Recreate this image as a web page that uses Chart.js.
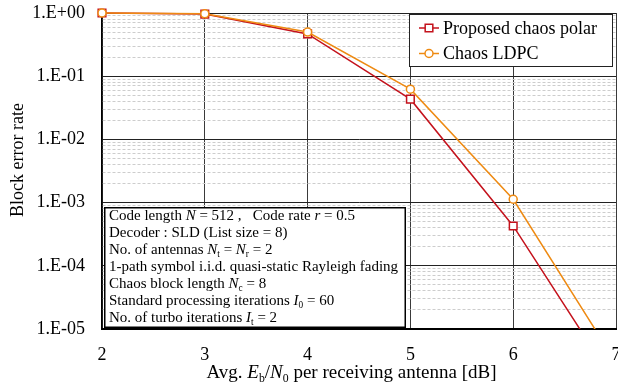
<!DOCTYPE html>
<html>
<head>
<meta charset="utf-8">
<script src="https://cdn.jsdelivr.net/npm/chart.js@4.4.1/dist/chart.umd.min.js"></script>
<style>
  html, body { margin: 0; padding: 0; background: #fff; }
  #wrap { width: 618px; height: 386px; }
</style>
</head>
<body>
<div id="wrap"><canvas id="c" width="618" height="386"></canvas></div>
<script>
// ---- data ----
const ebn0 = [2, 3, 4, 5, 6, 7];
const polarBler = [1.0, 0.96, 0.467, 0.0433, 4.27e-4, 1.3e-6];
const ldpcBler  = [1.0, 0.97, 0.50, 0.0623, 1.13e-3, 2.95e-6];
const seriesNames = ['Proposed chaos polar', 'Chaos LDPC'];
const xTicks = [2, 3, 4, 5, 6, 7];
const yDecades = [1e-5, 1e-4, 1e-3, 1e-2, 1e-1, 1];
const yTickLabels = ['1.E-05', '1.E-04', '1.E-03', '1.E-02', '1.E-01', '1.E+00'];
const yTitle = 'Block error rate';
// rich-text runs: [text, flags]  flags: 'i' italic, 's' subscript
const xTitle = [['Avg. '], ['E', 'i'], ['b', 's'], ['/'], ['N', 'i'], ['0', 's'], [' per receiving antenna [dB]']];
const infoLines = [
  [['Code length '], ['N', 'i'], [' = 512 ,   Code rate '], ['r', 'i'], [' = 0.5']],
  [['Decoder : SLD (List size = 8)']],
  [['No. of antennas '], ['N', 'i'], ['t', 's'], [' = '], ['N', 'i'], ['r', 's'], [' = 2']],
  [['1-path symbol i.i.d. quasi-static Rayleigh fading']],
  [['Chaos block length '], ['N', 'i'], ['c', 's'], [' = 8']],
  [['Standard processing iterations '], ['I', 'i'], ['0', 's'], [' = 60']],
  [['No. of turbo iterations '], ['I', 'i'], ['t', 's'], [' = 2']]
];

const SERIF = "'Liberation Serif', 'Times New Roman', serif";
const RED = '#C4121C';
const ORANGE = '#EE8A12';

function isDecade(v) {
  const l = Math.log10(v);
  return Math.abs(l - Math.round(l)) < 1e-9;
}

function runFont(run, size) {
  const f = run[1] || '';
  const fs = f.includes('s') ? size * 0.62 : size;
  return (f.includes('i') ? 'italic ' : '') + fs.toFixed(2) + 'px ' + SERIF;
}
function richWidth(ctx, runs, size) {
  let w = 0;
  for (const r of runs) { ctx.font = runFont(r, size); w += ctx.measureText(r[0]).width; }
  return w;
}
function drawRich(ctx, runs, x, y, size) {
  let cx = x;
  ctx.textBaseline = 'alphabetic';
  ctx.textAlign = 'left';
  for (const r of runs) {
    ctx.font = runFont(r, size);
    const dy = (r[1] || '').includes('s') ? size * 0.22 : 0;
    ctx.fillText(r[0], cx, y + dy);
    cx += ctx.measureText(r[0]).width;
  }
}

// titles, info box and legend drawn on top of the plot
const overlay = {
  id: 'overlay',
  afterDraw(chart) {
    const ctx = chart.ctx;
    const a = chart.chartArea;
    ctx.save();
    ctx.fillStyle = '#000';

    // y-axis title
    ctx.save();
    ctx.translate(18, 160);
    ctx.rotate(-Math.PI / 2);
    ctx.font = '18px ' + SERIF;
    ctx.textAlign = 'center';
    ctx.textBaseline = 'middle';
    ctx.fillText(yTitle, 0, 0);
    ctx.restore();

    // x-axis title
    const xw = richWidth(ctx, xTitle, 19);
    drawRich(ctx, xTitle, 351.5 - xw / 2, 378, 19);

    // info box
    const bx = a.left + 2, by = 207, bw = 302, bh = a.bottom - 1 - by;
    ctx.fillStyle = '#fff';
    ctx.fillRect(bx, by, bw, bh);
    ctx.strokeStyle = '#000';
    ctx.lineWidth = 1.5;
    ctx.strokeRect(bx + 0.75, by + 0.75, bw - 1.5, bh - 1.5);
    ctx.fillStyle = '#000';
    infoLines.forEach((runs, i) => drawRich(ctx, runs, bx + 5, by + 13 + i * 17, 15));

    // legend
    const lx = a.right - 207, ly = a.top + 1, lw = 204, lh = 53;
    ctx.fillStyle = '#fff';
    ctx.fillRect(lx, ly, lw, lh);
    ctx.strokeStyle = '#222';
    ctx.lineWidth = 1;
    ctx.strokeRect(lx + 0.5, ly + 0.5, lw - 1, lh - 1);
    chart.data.datasets.forEach((ds, i) => {
      const cy = ly + 14 + i * 25.5;
      ctx.strokeStyle = ds.borderColor;
      ctx.lineWidth = 1.5;
      ctx.beginPath();
      ctx.moveTo(lx + 10, cy);
      ctx.lineTo(lx + 30, cy);
      ctx.stroke();
      ctx.fillStyle = '#fff';
      ctx.strokeStyle = ds.borderColor;
      ctx.lineWidth = ds.pointBorderWidth;
      Chart.helpers.drawPoint(ctx, {
        pointStyle: ds.pointStyle, radius: ds.pointRadius, borderWidth: ds.pointBorderWidth, rotation: 0
      }, lx + 20, cy);
      ctx.fillStyle = '#000';
      ctx.font = '18px ' + SERIF;
      ctx.textAlign = 'left';
      ctx.textBaseline = 'middle';
      ctx.fillText(ds.label, lx + 34, cy + 1);
    });
    ctx.restore();
  }
};

const ctx = document.getElementById('c').getContext('2d');
new Chart(ctx, {
  type: 'line',
  data: {
    datasets: [
      {
        label: seriesNames[0],
        data: ebn0.map((x, i) => ({ x, y: polarBler[i] })),
        borderColor: RED,
        backgroundColor: '#fff',
        borderWidth: 1.5,
        pointStyle: 'rect',
        pointRadius: 5.4,
        pointBorderWidth: 1.5,
        pointBackgroundColor: '#fff',
        pointBorderColor: RED,
        order: 1,
        clip: { left: 10, top: 10, right: 10, bottom: 0 }
      },
      {
        label: seriesNames[1],
        data: ebn0.map((x, i) => ({ x, y: ldpcBler[i] })),
        borderColor: ORANGE,
        backgroundColor: '#fff',
        borderWidth: 1.5,
        pointStyle: 'circle',
        pointRadius: 4,
        pointBorderWidth: 1.5,
        pointBackgroundColor: '#fff',
        pointBorderColor: ORANGE,
        order: 0,
        clip: { left: 10, top: 10, right: 10, bottom: 0 }
      }
    ]
  },
  options: {
    responsive: false,
    animation: false,
    layout: { autoPadding: false, padding: { top: 13, right: 2, left: 0, bottom: 0 } },
    plugins: { legend: { display: false }, tooltip: { enabled: false } },
    elements: { line: { tension: 0 } },
    scales: {
      x: {
        type: 'linear',
        min: xTicks[0],
        max: xTicks[xTicks.length - 1],
        afterBuildTicks: s => { s.ticks = xTicks.map(v => ({ value: v })); },
        afterFit: s => { s.height = 57; s.paddingLeft = 0; s.paddingRight = 0; },
        ticks: {
          autoSkip: false,
          maxRotation: 0,
          padding: 15,
          color: '#000',
          font: { family: SERIF, size: 18 }
        },
        grid: { color: '#3a3a3a', lineWidth: 1, drawTicks: false },
        border: { color: '#000', width: 2 }
      },
      y: {
        type: 'logarithmic',
        min: yDecades[0],
        max: yDecades[yDecades.length - 1],
        afterBuildTicks: s => {
          const t = [];
          for (let d = 0; d < yDecades.length; d++) {
            const base = yDecades[d];
            if (d === yDecades.length - 1) { t.push({ value: base }); break; }
            for (let m = 1; m <= 9; m++) t.push({ value: Number((m * base).toPrecision(6)) });
          }
          s.ticks = t;
        },
        afterFit: s => { s.width = 102; s.paddingTop = 0; s.paddingBottom = 0; },
        ticks: {
          autoSkip: false,
          padding: 17,
          color: '#000',
          font: { family: SERIF, size: 18 },
          callback: v => {
            const i = yDecades.findIndex(d => Math.abs(Math.log10(d) - Math.log10(v)) < 1e-9);
            return i >= 0 ? yTickLabels[i] : '';
          }
        },
        grid: {
          drawTicks: false,
          color: c => (c.tick && isDecade(c.tick.value)) ? '#222' : '#cdcdcd',
          lineWidth: 1
        },
        border: {
          color: '#000',
          width: 1.5,
          dash: c => (c.tick && isDecade(c.tick.value)) ? [] : [3, 2]
        }
      }
    }
  },
  plugins: [overlay]
});
</script>
</body>
</html>
